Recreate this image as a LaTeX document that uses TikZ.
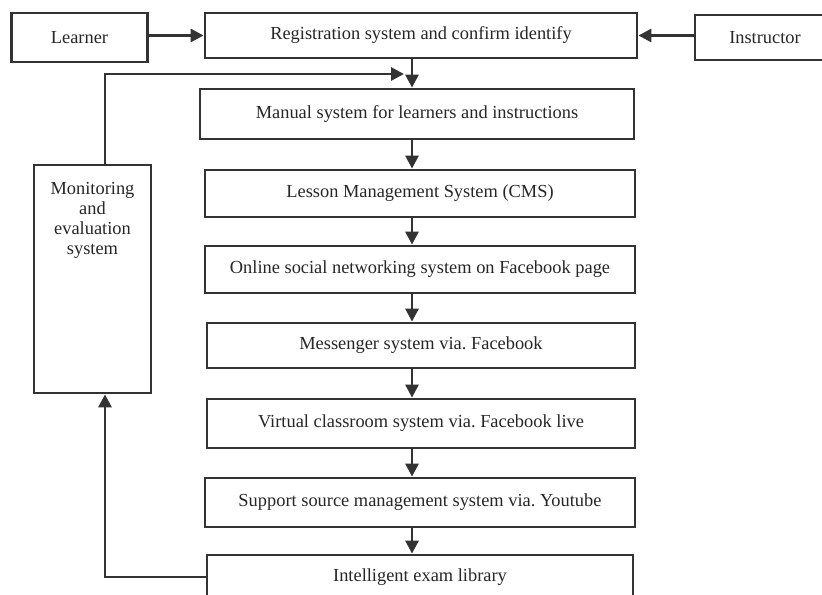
\documentclass[tikz,border=0pt]{standalone}
\usepackage{fontspec}
\setmainfont{Liberation Serif}
\usepackage{tikz}
\usetikzlibrary{arrows.meta}
\frenchspacing

\begin{document}
\begin{tikzpicture}[
x                       = 0.5pt,
y                       = -0.5pt,
every node/.style       = {font=\fontsize{9.2}{10}\selectfont, text=black!85},
sysbox/.style           = {draw=black!80, line width=1.4pt, inner sep=0pt,
                           minimum width=215pt, minimum height=24pt},
userbox/.style          = {sysbox, minimum width=68pt, minimum height=23pt},
arr/.style              = {draw=black!80, line width=1.4pt,
                           -{Triangle[length=6.5pt,width=6.5pt]}}
]

\useasboundingbox (0,0) rectangle (822,594);
\clip (0,0) rectangle (822,594);

% top row
\node [userbox, minimum height=24.5pt] (learner) at (79.5,37.5) {Learner};
\node [sysbox, minimum width=216pt, minimum height=22.5pt] (reg) at (421,35.5)
      {Registration system and confirm identify};
\node [userbox, minimum width=70pt, minimum height=22.5pt] (instr) at (765,37.5) {Instructor};

% main column
\node [sysbox, minimum width=217pt, minimum height=25pt] (manual) at (417,114)
      {Manual system for learners and instructions};
\node [sysbox, minimum height=23.5pt] (lesson) at (420,193.5)
      {Lesson Management System (CMS)};
\node [sysbox, minimum height=23.5pt] (online) at (420,269.5)
      {Online social networking system on Facebook page};
\node [sysbox, minimum width=214pt, minimum height=22.5pt] (messenger) at (421,345.5)
      {Messenger system via. Facebook};
\node [sysbox, minimum width=214pt, minimum height=24.5pt] (virtual) at (421,423.5)
      {Virtual classroom system via. Facebook live};
\node [sysbox, minimum height=24.5pt] (support) at (420,502.5)
      {Support source management system via. Youtube};
\node [sysbox, minimum width=213pt, minimum height=22pt] (intel) at (420,577)
      {Intelligent exam library};

% monitoring
\node [sysbox, minimum width=58.5pt, minimum height=114pt] (mon) at (92.5,279) {};
\node [align=center] (montext) at (92.5,220) {Monitoring\\and\\evaluation\\system};

\coordinate (spine) at (412,0);
\coordinate (fb) at (105,74);
\coordinate (fbend) at (404,74);

% connectors
\draw [arr] (reg.west -| learner.east) -- (reg.west);
\draw [arr] (reg.east -| instr.west) -- (reg.east);
\foreach \a/\b in {reg/manual, manual/lesson, lesson/online, online/messenger,
                   messenger/virtual, virtual/support, support/intel}
   \draw [arr] (\a.south -| spine) -- (\b.north -| spine);
\draw [arr] (mon.north -| fb) -- (fb) -- (fbend);
\draw [arr] (intel.west) -| (mon.south -| fb);

\end{tikzpicture}
\end{document}
